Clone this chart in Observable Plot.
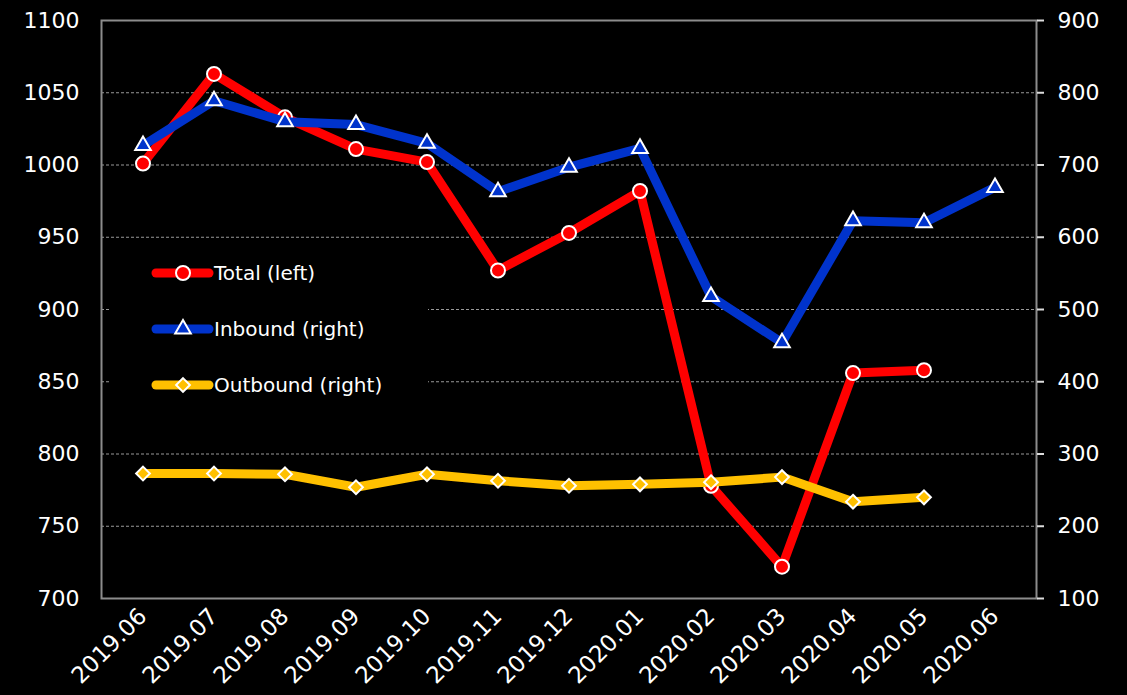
<!DOCTYPE html>
<html><head><meta charset="utf-8">
<script src="https://cdn.jsdelivr.net/npm/d3@7"></script>
<script src="https://cdn.jsdelivr.net/npm/@observablehq/plot@0.6"></script>
<style>
html,body{margin:0;padding:0;background:#000;}
#wrap{position:relative;width:1127px;height:695px;background:#000;overflow:hidden;}
#legend{position:absolute;left:110px;top:248px;}
</style>
</head><body>
<div id="wrap"><div id="chart"></div><div id="legend"></div></div>
<script>
const months = ["2019.06","2019.07","2019.08","2019.09","2019.10","2019.11","2019.12","2020.01","2020.02","2020.03","2020.04","2020.05","2020.06"];
const total    = [1001,1063,1033,1011,1002,927,953,982,778,722,856,858,null];
const inbound  = [727,789,760,756,730,663,697,723,518,454,623,620,669];
const outbound = [273,273,272,254,272,263,256,258,261,268,234,240,null];
const leftTicks = [700,750,800,850,900,950,1000,1050,1100];
const seriesNames = ["Total (left)","Inbound (right)","Outbound (right)"];
const colors = ["#ff0000","#0033cc","#ffc000"];
const symbols = ["circle","triangle","diamond2"];
const symR = [7, 5.8, 6.2];

// right axis (100..900) mapped onto left scale (700..1100)
const toLeft = v => 700 + (v - 100) / 2;
const toRight = d => (d - 700) * 2 + 100;

const rows = (vals, conv) => months.map((m, i) => ({month: m, v: vals[i] == null ? null : conv(vals[i])})).filter(d => d.v != null);
const tRows = rows(total, v => v);
const iRows = rows(inbound, toLeft);
const oRows = rows(outbound, toLeft);

const font = "'DejaVu Sans', sans-serif";
const lineW = 9;

function series(data, i) {
  return [
    Plot.line(data, {x: "month", y: "v", stroke: colors[i], strokeWidth: lineW, strokeLinejoin: "round", strokeLinecap: "round"}),
    Plot.dot(data, {x: "month", y: "v", fill: colors[i], stroke: "white", strokeWidth: 2, r: symR[i], symbol: symbols[i]})
  ];
}

const chart = Plot.plot({
  width: 1127,
  height: 695,
  marginLeft: 101,
  marginRight: 91,
  marginTop: 20,
  marginBottom: 97,
  style: {background: "black", color: "white", fontFamily: font, fontSize: "21px"},
  x: {type: "band", domain: months, padding: 0, label: null},
  y: {domain: [700, 1100], label: null},
  marks: [
    Plot.gridY([750,800,850,900,950,1000,1050], {stroke: "#999", strokeOpacity: 1, strokeDasharray: "3,2", strokeWidth: 1}),
    Plot.frame({stroke: "#8c8c8c", strokeWidth: 2}),
    Plot.axisY({anchor: "left", ticks: leftTicks, tickFormat: d => String(d), tickSize: 0, tickPadding: 22, fontSize: 22, label: null}),
    Plot.axisY({anchor: "right", ticks: leftTicks, tickFormat: d => String(toRight(d)), tickSize: 7, tickPadding: 14, stroke: "#ddd", strokeWidth: 2, fontSize: 22, label: null}),
    Plot.axisX({tickRotate: -45, tickSize: 0, tickPadding: 14, fontSize: 23, label: null}),
    ...series(tRows, 0),
    ...series(iRows, 1),
    ...series(oRows, 2)
  ]
});
document.getElementById("chart").appendChild(chart);

// legend
const lg = d3.select("#legend").append("svg").attr("width", 318).attr("height", 150).style("background", "black").style("display", "block");
const symGen = {circle: d3.symbolCircle, triangle: d3.symbolTriangle, diamond2: d3.symbolDiamond2};
seriesNames.forEach((name, i) => {
  const y = 25 + i * 56;
  const g = lg.append("g").attr("transform", `translate(0,${y})`);
  g.append("line").attr("x1", 46).attr("x2", 99).attr("y1", 0).attr("y2", 0)
    .attr("stroke", colors[i]).attr("stroke-width", lineW).attr("stroke-linecap", "round");
  g.append("path").attr("transform", "translate(73,0)")
    .attr("d", d3.symbol(symGen[symbols[i]], symR[i] * symR[i] * Math.PI)())
    .attr("fill", colors[i]).attr("stroke", "white").attr("stroke-width", 2);
  g.append("text").attr("x", 104).attr("y", 0).attr("dy", "0.35em")
    .attr("fill", "white").attr("font-family", font).attr("font-size", 20).text(name);
});
</script>
</body></html>
